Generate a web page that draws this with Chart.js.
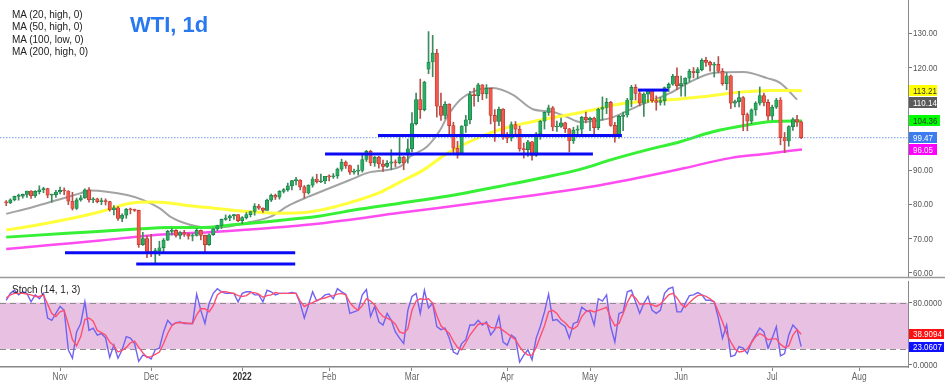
<!DOCTYPE html>
<html>
<head>
<meta charset="utf-8">
<script src="https://cdn.jsdelivr.net/npm/chart.js@4.4.0/dist/chart.umd.min.js"></script>
<style>
  body { margin: 0; background: #fff; }
  #wrap { position: relative; width: 950px; height: 385px; font-family: 'Liberation Sans', Arial, sans-serif; }
  canvas { position: absolute; left: 0; }
  #main { top: 0; }
  #stoch { top: 280px; }
  .legend { position: absolute; left: 12px; top: 9px; font-size: 10px; line-height: 12.4px; color: #222; }
  .title { position: absolute; left: 130px; top: 14px; font-size: 22px; line-height: 22px; font-weight: bold; color: #2878f0; }
  .stlab { position: absolute; left: 12px; top: 284px; font-size: 10px; color: #222; }
</style>
</head>
<body>
<div id="wrap">
  <canvas id="main" width="950" height="280"></canvas>
  <canvas id="stoch" width="950" height="105"></canvas>
  <div class="legend">MA (20, high, 0)<br>MA (50, high, 0)<br>MA (100, low, 0)<br>MA (200, high, 0)</div>
  <div class="title">WTI, 1d</div>
  <div class="stlab">Stoch (14, 1, 3)</div>
</div>
<script>
// daily bars, 13 Oct 2021 .. 12 Jul 2022 (weekday index)
const opens = [
  80.6,80.4,81.3,82.3,82.4,82.9,83.9,82.5,83.7,84.2,
  84.6,82.7,82.8,83.6,84.1,83.9,80.9,78.8,81.3,81.9,
  84.2,81.3,81.6,80.8,80.9,80.8,78.4,79.0,75.9,76.8,
  78.5,78.4,78.2,68.2,70.0,66.2,65.6,66.4,67.3,69.5,
  72.1,72.4,70.9,71.7,71.3,70.7,70.9,72.4,70.9,68.2,
  71.1,72.8,73.8,75.6,76.0,76.6,77.0,75.2,76.1,77.0,
  77.9,79.5,78.9,78.2,81.2,82.6,82.1,83.8,84.3,85.4,
  86.9,87.1,85.1,83.3,85.6,87.4,86.6,86.8,88.2,88.0,
  88.3,90.3,92.3,91.3,89.4,89.7,89.9,93.1,95.5,92.1,
  93.7,91.8,91.1,92.0,92.4,92.1,93.8,94.6,96.2,103.6,
  110.6,107.7,119.5,121.6,124.2,108.7,106.0,109.3,103.0,96.4,
  95.0,102.9,104.7,112.1,111.8,114.9,112.3,113.9,106.0,104.2,
  107.8,100.3,99.3,103.3,102.0,96.2,96.0,98.3,94.3,100.6,
  104.3,106.9,108.2,102.6,102.8,103.8,102.1,98.5,101.7,102.0,
  105.4,104.7,105.2,102.4,107.8,108.3,109.8,103.1,99.8,105.7,
  106.1,110.5,114.2,112.4,109.6,112.2,113.2,110.3,109.8,110.3,
  114.1,115.1,117.5,114.7,115.3,116.9,118.9,118.5,119.4,122.1,
  121.5,120.7,120.9,118.9,115.3,117.6,109.6,110.0,111.2,106.2,
  104.3,107.6,109.6,111.8,109.8,105.8,108.4,110.5,99.5,98.5,
  102.7,104.8,104.1
];
const highs = [
  81.1,81.6,82.4,83.0,83.0,83.9,84.0,84.0,85.4,85.0,
  84.7,83.0,84.1,85.0,84.8,84.0,83.5,81.8,82.6,84.5,
  84.9,82.0,81.8,81.8,81.6,80.9,79.6,79.3,77.2,78.8,
  78.9,78.6,78.3,71.8,70.8,71.2,67.1,69.2,70.0,72.4,
  72.9,72.6,72.0,72.4,71.6,71.4,72.9,72.5,71.0,71.4,
  72.9,73.9,75.7,76.9,76.9,77.1,77.0,76.4,77.6,78.0,
  80.2,80.0,79.0,81.5,83.0,83.0,84.0,84.6,86.2,87.0,
  87.9,87.2,85.5,85.7,88.0,88.8,88.8,88.2,88.6,89.0,
  90.6,93.2,92.7,91.5,90.3,91.5,94.7,95.8,95.8,94.0,
  94.0,92.9,92.8,96.0,93.0,99.5,94.0,99.1,106.8,112.5,
  116.6,116.0,130.5,129.4,125.3,112.5,110.0,109.4,104.0,98.4,
  103.0,106.0,113.0,114.0,115.4,115.0,115.0,114.0,107.7,108.4,
  108.0,101.0,104.1,104.2,102.9,97.9,98.7,98.4,101.0,104.5,
  107.0,109.0,108.6,104.3,105.2,104.0,102.2,102.5,103.0,105.7,
  107.0,105.5,105.5,108.1,111.4,111.0,110.1,104.0,106.0,107.0,
  111.0,114.8,115.0,113.5,112.6,113.0,113.5,111.7,111.2,114.3,
  115.5,118.0,119.9,117.5,117.0,119.5,120.0,120.0,122.6,123.0,
  121.9,121.5,123.2,119.7,118.5,117.8,110.5,113.0,111.5,106.7,
  107.9,110.0,114.3,112.5,110.6,109.0,111.0,111.2,101.0,103.0,
  105.3,106.0,104.3
];
const lows = [
  79.6,80.2,81.0,81.2,81.8,82.0,81.7,82.0,83.0,83.4,
  81.9,80.6,82.0,83.0,82.8,79.9,78.3,78.5,80.9,81.7,
  80.6,80.5,80.4,79.9,79.8,78.0,76.9,75.3,74.9,75.9,
  77.2,77.9,67.4,68.0,64.4,64.7,62.4,65.0,66.0,69.4,
  71.0,70.4,69.9,70.6,69.8,69.3,70.7,69.6,66.1,68.0,
  70.9,72.3,72.9,75.3,75.2,75.6,74.9,74.3,75.7,76.3,
  76.8,78.5,77.6,78.2,80.8,81.4,81.5,83.3,83.8,84.2,
  85.7,84.2,81.8,83.0,85.0,86.2,86.3,86.0,86.8,87.6,
  87.6,89.7,90.5,88.7,88.8,88.6,89.4,92.5,91.3,91.1,
  90.6,89.6,90.8,90.1,91.0,91.8,90.1,92.0,95.3,103.2,
  105.1,107.3,118.2,117.3,105.5,104.5,105.0,99.8,94.5,93.5,
  94.9,101.0,103.5,108.7,110.0,110.6,111.0,103.5,98.4,103.0,
  99.0,98.0,98.5,100.5,95.5,93.5,94.0,92.9,94.0,99.0,
  102.0,106.0,101.5,101.3,102.5,101.0,95.3,97.8,99.8,100.2,
  103.8,101.5,100.3,101.8,104.6,106.5,102.8,98.2,99.3,101.5,
  105.5,108.5,110.5,108.8,105.7,109.8,109.8,107.5,109.0,109.0,
  113.0,114.8,113.5,111.6,111.6,115.8,117.0,116.8,119.0,120.3,
  118.9,117.2,118.5,114.8,113.5,108.0,108.5,108.5,101.5,101.5,
  103.6,106.0,109.0,108.8,104.6,104.7,108.0,97.4,95.1,97.0,
  101.6,102.8,99.2
];
const closes = [
  80.4,81.3,82.3,82.4,82.9,83.9,82.5,83.8,84.2,84.6,
  82.7,82.8,83.6,84.1,83.9,80.9,78.8,81.3,81.9,84.2,
  81.3,81.6,80.8,80.9,80.8,78.4,79.0,75.9,76.8,78.5,
  78.4,78.2,68.2,70.0,66.2,65.6,66.5,67.3,69.5,72.1,
  72.4,70.9,71.7,71.3,70.7,70.9,72.4,70.9,68.2,71.1,
  72.8,73.8,75.6,76.0,76.6,77.0,75.2,76.1,77.0,77.9,
  79.5,78.9,78.2,81.2,82.6,82.1,83.8,84.3,85.4,86.9,
  87.1,85.1,83.3,85.6,87.4,86.6,86.8,88.2,88.0,88.3,
  90.3,92.3,91.3,89.4,89.7,89.9,93.1,95.5,92.1,93.7,
  91.8,91.1,92.0,92.4,92.1,93.8,92.1,96.2,103.6,110.6,
  107.7,115.7,121.6,124.2,108.7,106.0,109.3,103.0,96.4,95.0,
  102.9,104.7,112.1,111.8,114.9,112.3,113.9,106.0,104.2,107.8,
  100.3,99.3,103.3,102.0,96.2,96.0,98.3,94.3,100.6,104.3,
  106.9,108.2,102.6,102.8,103.8,102.1,98.5,101.7,102.0,105.4,
  104.7,105.2,102.4,107.8,108.3,109.8,103.1,99.8,105.7,106.1,
  110.5,114.2,112.4,109.6,112.2,113.2,110.3,109.8,110.3,114.1,
  115.1,117.5,114.7,115.3,116.9,118.9,118.5,119.4,122.1,121.5,
  120.7,120.9,118.9,115.3,117.6,109.6,110.0,111.2,106.2,104.3,
  107.6,109.6,111.8,109.8,105.8,108.4,110.5,99.5,98.5,102.7,
  104.8,104.1,99.47
];

// moving averages (bar index, price)
const ma20Idx = [0,6.5,13,17.8,20.2,24.3,29.2,33,37.1,39.6,44.4,49.2,53.3,58.9,63.7,68.5,72.7,75.8,83,87.9,95.1,97.5,101.6,104.8,106.5,109.6,113.7,117.6,122.4,127.2,132.1,135.5,138.6,143.4,146.6,153.1,160.3,165.2,170.7,178,183.8,186.9,191];
const ma20Val = [77.2,79.2,81.5,83.2,84.0,83.7,82.7,81.3,78.8,76.4,74.0,73.1,73.4,74.8,76.3,79.8,82.1,83.6,87.1,89.4,91.0,93.9,96.8,101.7,105.6,110.5,113.4,114.0,112.0,107.8,107.0,105.5,104.1,104.6,105.5,109.0,112.5,115.8,118.4,118.7,116.9,115.5,110.6];
const ma50Idx = [0,6.5,14.7,22.7,29.9,34.7,39.6,42.7,50.9,58.9,65.4,71,75.8,83,90.3,95.1,100.7,106.5,112.8,117.6,123.4,128.9,135.5,141.7,146.6,154.8,162.8,170.7,177.2,184.5,192.2];
const ma50Val = [72.5,73.7,75.6,77.8,80.3,80.7,80.4,79.8,78.8,77.8,77.4,77.5,78.3,80.5,83.5,86.5,90.0,94.9,98.8,101.2,103.2,104.6,106.1,107.6,109.0,110.2,110.8,111.8,112.8,113.3,113.2];
const ma100Idx = [0,14.7,30.6,39.6,46.8,54.8,63,71,75.8,85.5,95.1,107.2,119.3,128.9,138.6,146.6,154.8,162.8,170.7,178.9,185.2,192.2];
const ma100Val = [70.4,71.5,72.7,73.2,73.2,74.0,74.9,75.9,76.6,78.6,80.3,82.5,85.3,87.6,90.2,93.2,95.9,98.3,101.2,103.2,104.2,104.36];
const ma200Idx = [0,10.6,22.7,34.7,50.9,63,75.8,95.1,119.3,143.4,162.8,174.8,183.8,192.2];
const ma200Val = [66.9,68.1,69.4,70.9,72.0,73.0,74.4,77.5,81.3,85.6,90.3,93.5,94.8,96.05];

// drawn support / resistance levels
const supportFrom = [14.2, 31.4, 77.0, 89.8, 152.6];
const supportTo = [69.8, 69.8, 141.7, 148.7, 159.9];
const supportPrice = [65.85, 62.55, 94.7, 100.1, 113.4];

const lastPrice = 99.47;
const priceTicks = [60, 70, 80, 90, 100, 110, 120, 130];
const badgeVals = ['113.21', '110.14', '104.36', '99.47', '96.05'];
const badgeBg = ['#ffff00', '#5a5a5a', '#00ff00', '#3b7cf0', '#ff00ff'];
const badgeFg = ['#333', '#fff', '#333', '#fff', '#fff'];

const monthIdx = [13, 35, 57, 78, 98, 121, 141, 163, 185, 206];
const monthLabels = ['Nov', 'Dec', '2022', 'Feb', 'Mar', 'Apr', 'May', 'Jun', 'Jul', 'Aug'];

// Stoch (14, 1, 3): %K blue, %D red
const stochK = [
  83,92,96,90,94,92,81,90,85,92, 60,57,66,75,70,19,8,42,53,81,
  44,47,38,40,34,9,25,8,19,36, 34,27,4,12,10,7,19,21,42,57,
  51,54,55,53,53,53,91,70,53,79, 92,98,94,92,92,92,81,92,94,94,
  90,90,81,96,94,90,92,92,92,93, 92,79,60,77,94,82,85,90,91,85,
  98,94,91,66,68,70,90,97,62,75, 55,51,66,57,42,34,27,70,88,92,
  66,96,73,79,49,45,47,34,16,13, 27,32,51,51,57,51,55,38,45,62,
  29,25,38,34,3,12,19,6,34,49, 68,91,57,58,53,49,34,53,55,74,
  70,68,51,85,82,90,49,29,66,68, 94,96,81,66,79,88,70,66,70,92,
  98,100,68,68,79,89,90,93,90,83, 83,81,60,34,51,10,12,23,21,14,
  29,38,47,42,21,34,49,11,14,38, 51,45,23.06
];
const stochD = [
  86,90,92,92,92,91,90,88,88,90, 78,66,62,68,70,52,32,24,36,58,
  60,56,44,41,38,29,24,16,18,22, 28,30,22,15,9,10,13,16,27,40,
  50,54,54,54,53,53,64,72,72,68, 76,90,94,94,93,92,89,88,89,93,
  93,91,87,89,90,93,92,92,92,92, 92,82,75,78,80,83,85,86,88,89,
  91,92,90,80,74,70,76,85,82,77, 68,62,60,57,52,42,40,46,70,82,
  85,84,85,79,63,50,45,40,30,22, 19,28,38,45,52,53,53,48,47,48,
  44,40,36,32,23,16,12,12,22,36, 50,68,70,66,58,54,48,46,50,62,
  68,70,68,70,72,74,60,50,53,66, 80,90,86,78,78,79,77,75,78,84,
  90,92,86,78,74,80,85,89,90,88, 85,81,68,55,40,29,20,16,17,20,
  28,36,40,37,32,33,33,26,22,24, 38,45,38.91
];
const stochTicks = [0, 80];
const stochBand = [20, 80];
const stochBadgeVals = ['38.9094', '23.0607'];
const stochBadgeBg = ['#ff1010', '#1010ff'];

const xMin = -1.5, xMax = 217.8;

Chart.defaults.font.family = "'Liberation Sans', Arial, sans-serif";
Chart.defaults.animation = false;

const idx = opens.map((_, i) => i);
const up = idx.map(i => closes[i] >= opens[i]);

// axis text of the original is a narrow face, so squeeze it a bit
function narrowText(ctx, text, x, y, size, color, align, weight) {
    ctx.save();
    ctx.font = (weight || 'normal') + ' ' + size + "px 'Liberation Sans', Arial, sans-serif";
    ctx.fillStyle = color;
    ctx.textBaseline = 'middle';
    ctx.textAlign = 'left';
    const w = ctx.measureText(text).width * 0.84;
    ctx.translate(align === 'center' ? x - w / 2 : x, y);
    ctx.scale(0.84, 1);
    ctx.fillText(text, 0, 0);
    ctx.restore();
}

function maSet(xs, ys, color, width) {
    return {
        type: 'line',
        data: xs.map((x, k) => ({ x: x, y: ys[k] })),
        borderColor: color,
        borderWidth: width,
        pointRadius: 0,
        cubicInterpolationMode: 'monotone',
        order: 20
    };
}

function drawBadges(chart, vals, bgs, fgs, w, h) {
    const { ctx, chartArea, scales } = chart;
    const x0 = chartArea.right + 1;
    let prev = -100;
    vals.forEach((v, k) => {
        let y = scales.y.getPixelForValue(parseFloat(v));
        if (y < prev + h + 1) y = prev + h + 1;   // keep labels from overlapping
        prev = y;
        const bw = Array.isArray(w) ? w[k] : w;
        ctx.fillStyle = bgs[k];
        ctx.fillRect(x0, Math.round(y - h / 2), bw, h);
        narrowText(ctx, v, x0 + 4, y + 0.5, 9.5, fgs[k]);
    });
}

function drawYLabels(chart, ticks, digits) {
    const { ctx, chartArea, scales } = chart;
    ticks.forEach(v => narrowText(ctx, v.toFixed(digits), chartArea.right + 5, scales.y.getPixelForValue(v) + 0.5, 9.5, '#555'));
}

const mainDeco = {
    id: 'mainDeco',
    afterDraw(chart) {
        const { ctx, chartArea } = chart;
        ctx.save();
        ctx.strokeStyle = '#9a9a9a';
        ctx.lineWidth = 1.5;
        ctx.beginPath();
        ctx.moveTo(0, chartArea.bottom + 0.5);
        ctx.lineTo(chart.width - 5, chartArea.bottom + 0.5);
        ctx.stroke();
        ctx.restore();
        drawYLabels(chart, priceTicks, 2);
        drawBadges(chart, badgeVals, badgeBg, badgeFg, [28, 28, 31, 28, 28], 11);
    }
};

const stochDeco = {
    id: 'stochDeco',
    beforeDatasetsDraw(chart) {
        const { ctx, chartArea, scales } = chart;
        const yTop = scales.y.getPixelForValue(stochBand[1]);
        const yBot = scales.y.getPixelForValue(stochBand[0]);
        ctx.save();
        ctx.fillStyle = '#e7c0e2';
        ctx.fillRect(chartArea.left, yTop, chartArea.right - chartArea.left, yBot - yTop);
        ctx.setLineDash([6, 4]);
        ctx.strokeStyle = '#8c8c8c';
        ctx.lineWidth = 1;
        [yTop, yBot].forEach(y => {
            ctx.beginPath();
            ctx.moveTo(chartArea.left, Math.round(y) + 0.5);
            ctx.lineTo(chartArea.right, Math.round(y) + 0.5);
            ctx.stroke();
        });
        ctx.restore();
    },
    afterDraw(chart) {
        const { ctx, chartArea, scales } = chart;
        monthIdx.forEach((m, k) => {
            const bold = monthLabels[k] === '2022';
            narrowText(ctx, monthLabels[k], scales.x.getPixelForValue(m), chartArea.bottom + 10.5, 10,
                bold ? '#333' : '#666', 'center', bold ? 'bold' : 'normal');
        });
        drawYLabels(chart, stochTicks, 4);
        drawBadges(chart, stochBadgeVals, stochBadgeBg, ['#fff', '#fff'], 35, 10);
    }
};

new Chart(document.getElementById('main'), {
    type: 'bar',
    data: {
        datasets: [
            maSet(ma200Idx, ma200Val, '#ff4cf0', 2.5),
            maSet(ma100Idx, ma100Val, '#35f035', 3),
            maSet(ma50Idx, ma50Val, '#ffff3a', 3),
            maSet(ma20Idx, ma20Val, '#a3a3a3', 2),
            {
                type: 'line',
                data: [{ x: xMin, y: lastPrice }, { x: xMax, y: lastPrice }],
                borderColor: '#6f9be8',
                borderWidth: 1,
                borderDash: [1.5, 1.5],
                pointRadius: 0,
                order: 15
            },
            {
                type: 'bar',
                data: idx.map(i => ({ x: i, y: [lows[i], highs[i]] })),
                backgroundColor: up.map(u => u ? '#3c8a5d' : '#b9504a'),
                barThickness: 1,
                grouped: false,
                order: 10
            },
            {
                type: 'bar',
                data: idx.map(i => ({ x: i, y: [opens[i], closes[i]] })),
                backgroundColor: up.map(u => u ? '#27ad62' : '#f4594e'),
                borderColor: up.map(u => u ? '#1b7a45' : '#b8362d'),
                borderWidth: 0.7,
                borderSkipped: false,
                barThickness: 3.4,
                minBarLength: 1,
                grouped: false,
                order: 9
            },
            ...supportPrice.map((p, k) => ({
                type: 'line',
                data: [{ x: supportFrom[k], y: p }, { x: supportTo[k], y: p }],
                borderColor: '#0a0af5',
                borderWidth: 3,
                pointRadius: 0,
                order: 1
            }))
        ]
    },
    options: {
        responsive: false,
        layout: { padding: { top: 0, bottom: 3, left: 0, right: 0 } },
        plugins: { legend: { display: false }, tooltip: { enabled: false } },
        scales: {
            x: { type: 'linear', min: xMin, max: xMax, offset: false, display: false },
            y: {
                position: 'right',
                min: 58.74,
                max: 139.74,
                afterBuildTicks: s => { s.ticks = priceTicks.map(v => ({ value: v })); },
                afterFit: s => { s.width = 42; },
                ticks: { display: false },
                grid: { drawOnChartArea: false, tickLength: 4, color: '#777' },
                border: { color: '#888' }
            }
        }
    },
    plugins: [mainDeco]
});

new Chart(document.getElementById('stoch'), {
    type: 'line',
    data: {
        datasets: [
            {
                data: idx.map(i => ({ x: i, y: stochD[i] })),
                borderColor: '#ff4f70',
                borderWidth: 1.4,
                pointRadius: 0,
                order: 0
            },
            {
                data: idx.map(i => ({ x: i, y: stochK[i] })),
                borderColor: '#7062f0',
                borderWidth: 1.4,
                pointRadius: 0,
                order: 1
            }
        ]
    },
    options: {
        responsive: false,
        layout: { padding: { top: 1, bottom: 0, left: 0, right: 0 } },
        plugins: { legend: { display: false }, tooltip: { enabled: false } },
        scales: {
            x: {
                type: 'linear', min: xMin, max: xMax, offset: false,
                afterBuildTicks: s => { s.ticks = monthIdx.map(v => ({ value: v })); },
                afterFit: s => { s.height = 18; },
                ticks: { display: false },
                grid: { drawOnChartArea: false, tickLength: 4, color: '#888' },
                border: { color: '#888', width: 1.5 }
            },
            y: {
                position: 'right',
                min: -3.4,
                max: 108,
                afterBuildTicks: s => { s.ticks = stochTicks.map(v => ({ value: v })); },
                afterFit: s => { s.width = 42; },
                ticks: { display: false },
                grid: { drawOnChartArea: false, tickLength: 4, color: '#777' },
                border: { color: '#888' }
            }
        }
    },
    plugins: [stochDeco]
});
</script>
</body>
</html>
